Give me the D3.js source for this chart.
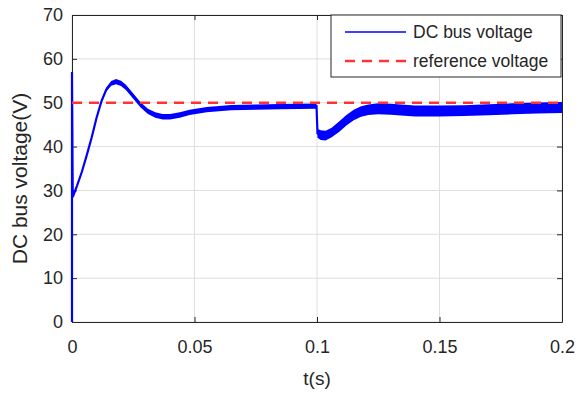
<!DOCTYPE html>
<html>
<head>
<meta charset="utf-8">
<script src="https://cdn.jsdelivr.net/npm/d3@7"></script>
<style>
  body { margin: 0; background: #fff; }
  text { font-family: "Liberation Sans", Arial, sans-serif; }
</style>
</head>
<body>
<div id="chart"></div>
<script>
// time (s) and DC bus voltage
var times = [0, 0, 0.0003, 0.002, 0.004, 0.006, 0.008, 0.010, 0.012, 0.014, 0.016, 0.018, 0.020,
    0.022, 0.025, 0.028, 0.031, 0.034, 0.037, 0.040, 0.044, 0.048, 0.055, 0.065, 0.075, 0.085,
    0.0998, 0.1002, 0.1015, 0.1035, 0.106, 0.109, 0.112, 0.115, 0.118, 0.121, 0.125, 0.13,
    0.14, 0.15, 0.16, 0.17, 0.18, 0.19, 0.2];
var voltage = [0, 57, 28.5, 31, 34.2, 38, 42, 46.5, 50.3, 53, 54.4, 54.8, 54.4,
    53.5, 51.5, 49.5, 48, 47.2, 46.8, 46.8, 47.2, 47.8, 48.4, 48.9, 49, 49.1,
    49.2, 43, 42.6, 42.5, 43.2, 44.5, 46, 47.2, 48, 48.4, 48.6, 48.5,
    48.1, 48.1, 48.2, 48.4, 48.6, 48.8, 48.9];
// half width of the switching ripple band
var ripple = [0, 0, 0, 0.15, 0.15, 0.15, 0.2, 0.25, 0.35, 0.45, 0.55, 0.6, 0.6,
    0.6, 0.6, 0.6, 0.6, 0.6, 0.6, 0.6, 0.6, 0.6, 0.6, 0.6, 0.6, 0.6,
    0.6, 1.0, 1.1, 1.1, 1.1, 1.2, 1.2, 1.2, 1.2, 1.2, 1.25, 1.25,
    1.25, 1.25, 1.25, 1.25, 1.25, 1.25, 1.25];
var refVoltage = 50;

var xTicks = [0, 0.05, 0.1, 0.15, 0.2];
var yTicks = [0, 10, 20, 30, 40, 50, 60, 70];
var legendLabels = ["DC bus voltage", "reference voltage"];

var margin = {top: 15, right: 22, bottom: 72, left: 72},
    width = 584 - margin.left - margin.right,
    height = 394 - margin.top - margin.bottom;

var svg = d3.select("#chart")
    .append("svg")
    .attr("width", 584)
    .attr("height", 394)
    .append("g")
    .attr("transform", "translate(" + margin.left + "," + margin.top + ")");

var x = d3.scaleLinear().domain([0, 0.2]).range([0, width]);
var y = d3.scaleLinear().domain([0, 70]).range([height, 0]);

var axisColor = "#262626";
var tickFont = "18px";

// grid
svg.append("g").selectAll("line")
    .data(xTicks)
    .enter().append("line")
    .attr("x1", function (d) { return x(d); })
    .attr("x2", function (d) { return x(d); })
    .attr("y1", 0).attr("y2", height)
    .attr("stroke", "#dfdfdf");
svg.append("g").selectAll("line")
    .data(yTicks)
    .enter().append("line")
    .attr("y1", function (d) { return y(d); })
    .attr("y2", function (d) { return y(d); })
    .attr("x1", 0).attr("x2", width)
    .attr("stroke", "#dfdfdf");

// axes
var fmt = function (d) { return d === 0 ? "0" : String(d); };

function styleAxis(g) {
    g.select(".domain").attr("stroke", axisColor);
    g.selectAll(".tick line").attr("stroke", axisColor);
    g.selectAll("text").attr("fill", axisColor).style("font-size", tickFont)
        .style("font-family", "'Liberation Sans', Arial, sans-serif");
}

svg.append("g")
    .attr("transform", "translate(0," + height + ")")
    .call(d3.axisBottom(x).tickValues(xTicks).tickFormat(fmt).tickSizeInner(-5).tickSizeOuter(0).tickPadding(18))
    .call(styleAxis);

svg.append("g")
    .call(d3.axisLeft(y).tickValues(yTicks).tickSizeInner(-5).tickSizeOuter(0).tickPadding(9))
    .call(styleAxis);

svg.append("g")
    .call(d3.axisTop(x).tickValues(xTicks).tickFormat("").tickSizeInner(-5).tickSizeOuter(0))
    .call(styleAxis);

svg.append("g")
    .attr("transform", "translate(" + width + ",0)")
    .call(d3.axisRight(y).tickValues(yTicks).tickFormat("").tickSizeInner(-5).tickSizeOuter(0))
    .call(styleAxis);

var data = times.map(function (t, i) { return {t: t, v: voltage[i], r: ripple[i]}; });

svg.append("clipPath").attr("id", "clip")
    .append("rect")
    .attr("x", -2).attr("y", 0)
    .attr("width", width + 2).attr("height", height);

var plot = svg.append("g").attr("clip-path", "url(#clip)");

// ripple band
plot.append("path")
    .datum(data)
    .attr("fill", "#0000ff")
    .attr("d", d3.area()
        .x(function (d) { return x(d.t); })
        .y0(function (d) { return y(d.v - d.r); })
        .y1(function (d) { return y(d.v + d.r); }));

plot.append("path")
    .datum(data)
    .attr("fill", "none")
    .attr("stroke", "#0000ff")
    .attr("stroke-width", 2.2)
    .attr("d", d3.line()
        .x(function (d) { return x(d.t); })
        .y(function (d) { return y(d.v); }));

// reference
plot.append("line")
    .attr("x1", x(0)).attr("x2", x(0.2))
    .attr("y1", y(refVoltage)).attr("y2", y(refVoltage))
    .attr("stroke", "#ff3333")
    .attr("stroke-width", 2.5)
    .attr("stroke-dasharray", "10,7");

// axis labels
svg.append("text")
    .attr("x", width / 2)
    .attr("y", height + 63)
    .attr("text-anchor", "middle")
    .attr("fill", axisColor)
    .style("font-size", "19px")
    .text("t(s)");

svg.append("text")
    .attr("transform", "translate(" + (-45) + "," + (height / 2 + 10) + ") rotate(-90)")
    .attr("text-anchor", "middle")
    .attr("fill", axisColor)
    .style("font-size", "21px")
    .text("DC bus voltage(V)");

// legend
var legend = svg.append("g")
    .attr("transform", "translate(" + (width - 231) + ",0)");

legend.append("rect")
    .attr("width", 230).attr("height", 62)
    .attr("fill", "#fff")
    .attr("stroke", axisColor);

legend.append("line")
    .attr("x1", 14).attr("x2", 75).attr("y1", 17).attr("y2", 17)
    .attr("stroke", "#0000ff").attr("stroke-width", 1.5);

legend.append("line")
    .attr("x1", 14).attr("x2", 75).attr("y1", 46).attr("y2", 46)
    .attr("stroke", "#ff3333").attr("stroke-width", 2.5)
    .attr("stroke-dasharray", "10,7");

legend.selectAll("text.lbl")
    .data(legendLabels)
    .enter().append("text")
    .attr("class", "lbl")
    .attr("x", 82)
    .attr("y", function (d, i) { return 17 + i * 29; })
    .attr("dy", "0.35em")
    .attr("fill", axisColor)
    .style("font-size", "17.5px")
    .text(function (d) { return d; });
</script>
</body>
</html>
